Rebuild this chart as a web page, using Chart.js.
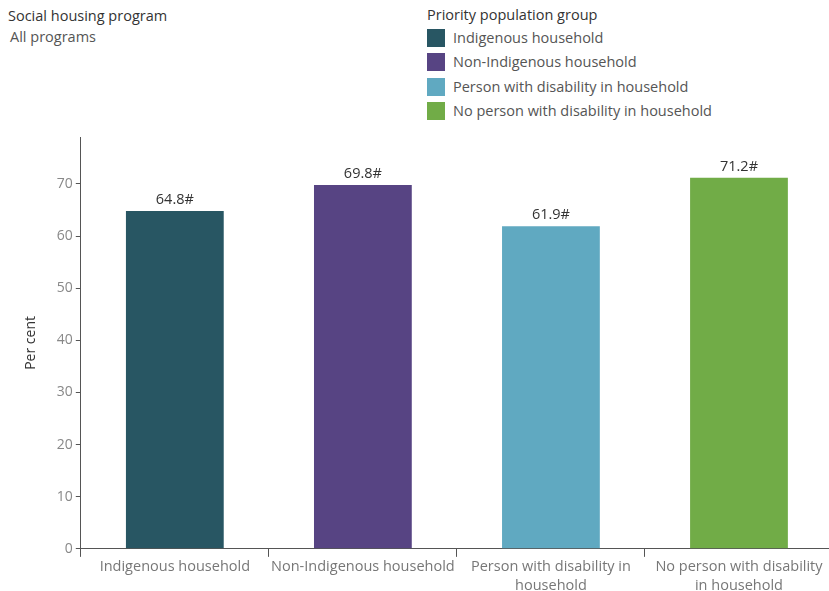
<!DOCTYPE html>
<html>
<head>
<meta charset="utf-8">
<script src="https://cdn.jsdelivr.net/npm/chart.js@4.4.1/dist/chart.umd.min.js"></script>
<style>
  html, body { margin: 0; padding: 0; background: #fff; overflow: hidden; }
  body { width: 829px; height: 591px; position: relative; font-family: "Open Sans", sans-serif; }
  #wrap { position: absolute; left: 0; top: 0; width: 836px; height: 596px; }
  .hdr { position: absolute; font-size: 14.5px; color: #333; white-space: nowrap; }
  .sub { color: #555; }
  .legend { position: absolute; left: 427px; top: 6px; font-size: 14.5px; color: #555; white-space: nowrap; }
  .legend .title { color: #333; margin-bottom: 5px; height: 18px; line-height: 18px; }
  .legend .row { height: 18px; line-height: 18px; margin-bottom: 6.3px; display: flex; align-items: center; }
  .legend .sw { width: 18px; height: 18px; margin-right: 8px; flex: none; }
</style>
</head>
<body>
<div class="hdr" style="left:8px; top:6px;">Social housing program</div>
<div class="hdr sub" style="left:10px; top:27px;">All programs</div>
<div class="legend" id="legend"></div>
<div id="wrap"><canvas id="myChart" width="836" height="596"></canvas></div>

<script>
// priority groups and share (%) for all social housing programs
const groups = [
  'Indigenous household',
  'Non-Indigenous household',
  'Person with disability in household',
  'No person with disability in household'
];
const axisLabels = [
  'Indigenous household',
  'Non-Indigenous household',
  ['Person with disability in', 'household'],
  ['No person with disability', 'in household']
];
const percent = [64.8, 69.8, 61.9, 71.2];
const valueNotes = ['#', '#', '#', '#'];
const yTicks = [0, 10, 20, 30, 40, 50, 60, 70];
const colours = ['#285663', '#574483', '#60a9c1', '#71ac47'];

// legend
let legendHtml = '<div class="title">Priority population group</div>';
groups.forEach((g, i) => {
  legendHtml += `<div class="row"><span class="sw" style="background:${colours[i]}"></span>${g}</div>`;
});
document.getElementById('legend').innerHTML = legendHtml;

// value labels above bars
const barLabels = {
  id: 'barLabels',
  afterDatasetsDraw(chart) {
    const ctx = chart.ctx;
    const meta = chart.getDatasetMeta(0);
    ctx.save();
    ctx.font = '14.5px "Open Sans", sans-serif';
    ctx.fillStyle = '#333';
    ctx.textAlign = 'center';
    ctx.textBaseline = 'bottom';
    meta.data.forEach((bar, i) => {
      ctx.fillText(percent[i].toFixed(1) + valueNotes[i], bar.x, bar.y - 4);
    });
    ctx.restore();
  }
};

const ctx = document.getElementById('myChart');

new Chart(ctx, {
  type: 'bar',
  data: {
    labels: axisLabels,
    datasets: [{
      label: 'Per cent',
      data: percent,
      backgroundColor: colours,
      categoryPercentage: 0.52,
      barPercentage: 1
    }]
  },
  options: {
    responsive: false,
    animation: false,
    layout: { padding: { top: 137, right: 3, left: 21, bottom: 0 } },
    plugins: { legend: { display: false }, tooltip: { enabled: false } },
    scales: {
      x: {
        offset: true,
        grid: { display: true, offset: true, drawOnChartArea: false, drawTicks: true, tickLength: 8, color: '#555' },
        border: { display: true, color: '#555', width: 1 },
        ticks: { color: '#777', font: { size: 14.5, family: '"Open Sans", sans-serif', lineHeight: 1.35 }, maxRotation: 0, autoSkip: false, padding: 0 }
      },
      y: {
        min: 0,
        max: 79,
        afterBuildTicks: axis => { axis.ticks = yTicks.map(v => ({ value: v })); },
        grid: { display: true, drawOnChartArea: false, drawTicks: true, tickLength: 5, color: '#555' },
        border: { display: true, color: '#555', width: 1 },
        ticks: { color: '#888', font: { size: 14, family: '"Open Sans", sans-serif' }, padding: 3 },
        title: { display: true, text: 'Per cent', color: '#333', font: { size: 14, family: '"Open Sans", sans-serif' }, padding: { top: 2, bottom: 14 } }
      }
    }
  },
  plugins: [barLabels]
});
</script>
</body>
</html>
